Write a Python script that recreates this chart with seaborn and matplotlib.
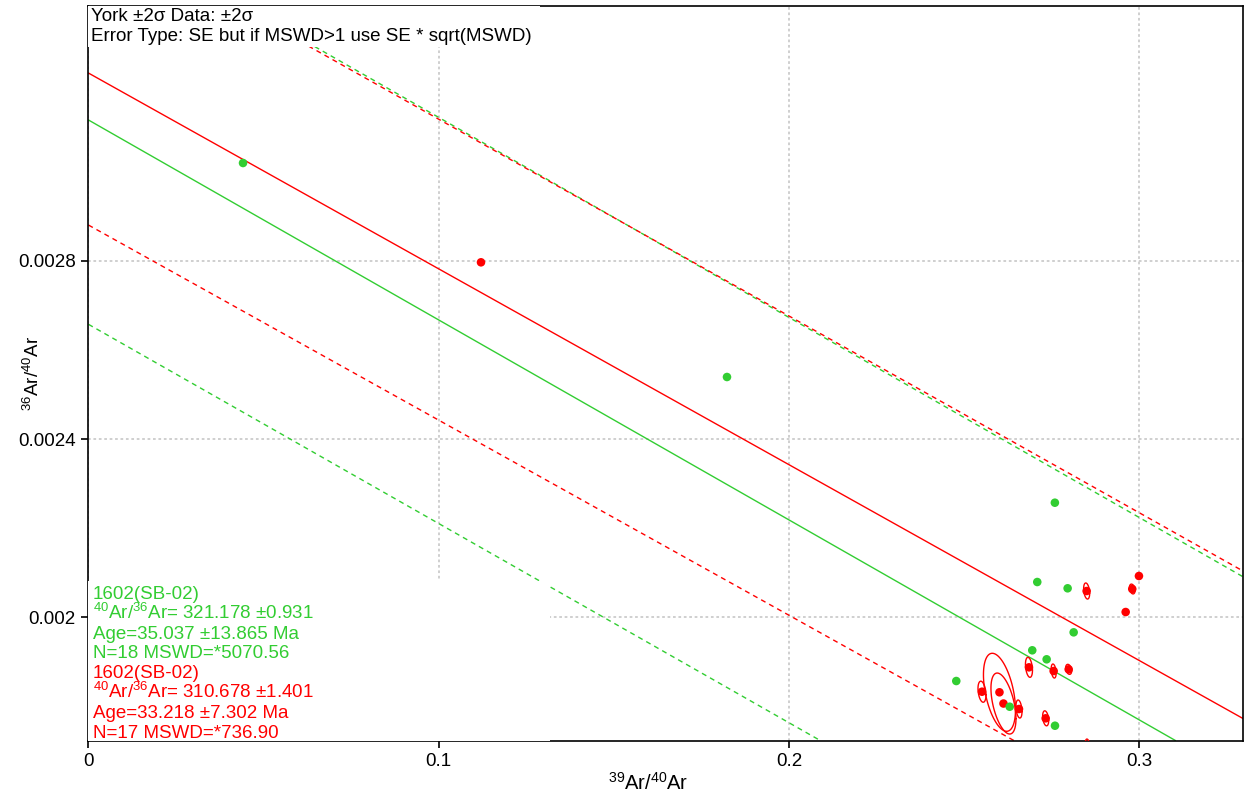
import matplotlib
matplotlib.use("Agg")
import matplotlib.pyplot as plt
from matplotlib.patches import Rectangle
import numpy as np
import seaborn as sns

# 39Ar/40Ar vs 36Ar/40Ar
green_x = [0.04413, 0.18230, 0.27591, 0.27088, 0.27955, 0.28127, 0.26945, 0.27356, 0.24776, 0.26301, 0.27594]
green_y = [0.0030192, 0.0025391, 0.0022571, 0.0020792, 0.0020651, 0.0019663, 0.0019260, 0.0019058, 0.0018571, 0.0017994, 0.0017568]

red_x = [0.11207, 0.29991, 0.29800, 0.28498, 0.29612, 0.26851, 0.27556, 0.27985, 0.25510, 0.26009, 0.26123, 0.26566, 0.27328, 0.28527]
red_y = [0.0027964, 0.0020927, 0.0020635, 0.0020590, 0.0020119, 0.0018878, 0.0018795, 0.0018833, 0.0018331, 0.0018318, 0.0018066, 0.0017943, 0.0017734, 0.0017101]
# 2 sigma errors and error correlation for the red ellipses
red_sx = [0.0006, 0.0007, 0.0008, 0.00086, 0.0007, 0.0010, 0.00071, 0.00086, 0.00114, 0.00457, 0.00357, 0.00086, 0.00086, 0.00071]
red_sy = [0.0000045, 0.000006, 0.000011, 0.000018, 0.000006, 0.0000224, 0.0000157, 0.0000112, 0.0000236, 0.0000875, 0.0000684, 0.0000202, 0.0000168, 0.0000168]
red_rho = [-0.3, -0.3, -0.3, -0.3, -0.3, -0.3, -0.3, -0.3, -0.3, -0.45, -0.5, -0.3, -0.3, -0.3]

# isochron fits (intercept, slope) and their envelopes
red_fit = (0.0032210, -0.004393)
red_lo = (0.0028800, -0.004377)
red_hi = (0.0035588, -0.004414)
green_fit = (0.0031157, -0.004486)
green_lo = (0.0026573, -0.004469)
green_hi = (0.0035703, -0.004488)

x_ticks = [0, 0.1, 0.2, 0.3]
x_ticklabels = ["0", "0.1", "0.2", "0.3"]
y_ticks = [0.002, 0.0024, 0.0028]
y_ticklabels = ["0.002", "0.0024", "0.0028"]

header = ["York \u00b12\u03c3 Data: \u00b12\u03c3",
          "Error Type: SE but if MSWD>1 use SE * sqrt(MSWD)"]
green_info = ["1602(SB-02)", r"$^{40}$Ar/$^{36}$Ar= 321.178 $\pm$0.931",
              "Age=35.037 \u00b113.865 Ma", "N=18 MSWD=*5070.56"]
red_info = ["1602(SB-02)", r"$^{40}$Ar/$^{36}$Ar= 310.678 $\pm$1.401",
            "Age=33.218 \u00b17.302 Ma", "N=17 MSWD=*736.90"]

GREEN = "#32CD32"
RED = "#FF0000"

sns.set_theme(style="white")
plt.rcParams["font.family"] = ["Liberation Sans", "DejaVu Sans"]
plt.rcParams["mathtext.fontset"] = "custom"
plt.rcParams["mathtext.rm"] = "Liberation Sans"
plt.rcParams["mathtext.it"] = "Liberation Sans:italic"
plt.rcParams["mathtext.bf"] = "Liberation Sans:bold"

fig = plt.figure(figsize=(12.44, 8.01), dpi=100)
ax = fig.add_axes([0.0711, 0.0755, 0.9283, 0.9174])

ax.set_xlim(0, 0.32969)
ax.set_ylim(0.0017236, 0.0033721)

# fit lines and envelopes
for (b, m), col, ls in [(green_fit, GREEN, "-"), (red_fit, RED, "-"),
                        (green_lo, GREEN, "--"), (green_hi, GREEN, "--"),
                        (red_lo, RED, "--"), (red_hi, RED, "--")]:
    ln = ax.axline((0, b), slope=m, color=col, lw=1.0, zorder=2)
    if ls == "--":
        ln.set_dashes((3.6, 3.0))

# error ellipses
t = np.linspace(0, 2 * np.pi, 120)
for cx, cy, sx, sy, r in zip(red_x, red_y, red_sx, red_sy, red_rho):
    ex = cx + sx * np.cos(t)
    ey = cy + sy * (r * np.cos(t) + np.sqrt(1 - r ** 2) * np.sin(t))
    ax.plot(ex, ey, color=RED, lw=1.0, zorder=3)

sns.scatterplot(x=red_x, y=red_y, color=RED, s=38, edgecolor="none", ax=ax, zorder=4)
sns.scatterplot(x=green_x, y=green_y, color=GREEN, s=38, edgecolor="none", ax=ax, zorder=5)

ax.set_axisbelow(True)
ax.grid(True, color="#cccccc", lw=1.3, linestyle=(0, (1.5, 1.5)))
ax.set_xticks(x_ticks)
ax.set_xticklabels(x_ticklabels)
ax.set_yticks(y_ticks)
ax.set_yticklabels(y_ticklabels)
ax.tick_params(bottom=True, left=True, length=5, width=1.2, color="black",
               labelsize=13.5, labelcolor="black", pad=4)
for sp in ax.spines.values():
    sp.set_color("black")
    sp.set_linewidth(1.2)

ax.set_xlabel(r"$^{39}$Ar/$^{40}$Ar", fontsize=14.5, color="black")
ax.xaxis.set_label_coords(0.4845, -0.043)
ax.set_ylabel(r"$^{36}$Ar/$^{40}$Ar", fontsize=13.5, color="black")
ax.yaxis.set_label_coords(-0.0393, 0.5)

# white boxes behind the texts
ax.add_patch(Rectangle((0, 0.9438), 0.391, 0.0562, transform=ax.transAxes,
                       facecolor="white", edgecolor="none", zorder=6))
ax.add_patch(Rectangle((0, 0), 0.3997, 0.217, transform=ax.transAxes,
                       facecolor="white", edgecolor="none", zorder=6))

ax.text(0.0025, 0.9794, header[0], transform=ax.transAxes, fontsize=13.5,
        color="black", va="baseline", zorder=7)
ax.text(0.0025, 0.9522, header[1], transform=ax.transAxes, fontsize=13.5,
        color="black", va="baseline", zorder=7)

step = 0.02695
for i, s in enumerate(green_info + red_info):
    col = GREEN if i < 4 else RED
    ax.text(0.004, 0.1926 - i * step, s, transform=ax.transAxes, fontsize=13.5,
            color=col, va="baseline", zorder=7)

fig.savefig("out.png", dpi=100)
